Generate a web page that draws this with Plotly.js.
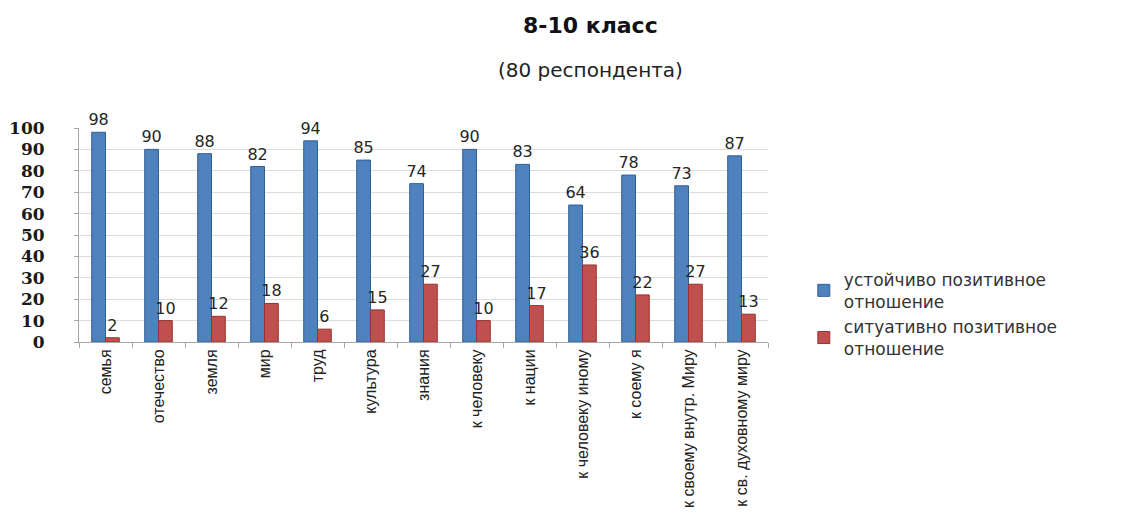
<!DOCTYPE html>
<html>
<head>
<meta charset="utf-8">
<script src="https://cdn.plot.ly/plotly-3.0.1.min.js"></script>
<style>html,body{margin:0;padding:0;background:#fff;}#chart{width:1139px;height:515px;}</style>
</head>
<body>
<div id="chart"></div>
<script>
const categories = ["семья","отечество","земля","мир","труд","культура","знания","к человеку","к нации","к человеку иному","к соему я","к своему внутр. Миру","к св. духовному миру"];
const stable = [98,90,88,82,94,85,74,90,83,64,78,73,87];
const situational = [2,10,12,18,6,15,27,10,17,36,22,27,13];
const seriesNames = ["устойчиво позитивное<br>отношение","ситуативно позитивное<br>отношение"];
const yTicks = [0,10,20,30,40,50,60,70,80,90,100];

const labelFont = {family:"DejaVu Sans", size:16, color:"#262626"};
const traces = [
  {type:"bar", x:categories, y:stable, name:seriesNames[0], text:stable.map(String), textposition:"outside", constraintext:"none", cliponaxis:false, textfont:labelFont,
   marker:{color:"#4F81BD", line:{color:"#2f5f98", width:1}}},
  {type:"bar", x:categories, y:situational, name:seriesNames[1], text:situational.map(String), textposition:"outside", constraintext:"none", cliponaxis:false, textfont:labelFont,
   marker:{color:"#C0504D", line:{color:"#983230", width:1}}}
];
const layout = {
  width:1139, height:515,
  margin:{l:79, r:371, t:128, b:173, pad:0},
  paper_bgcolor:"#fff", plot_bgcolor:"#fff",
  barmode:"group", bargap:0.48, bargroupgap:0,
  showlegend:true,
  legend:{x:1.052, xanchor:"left", y:0.375, yanchor:"top", font:{family:"DejaVu Sans", size:17, color:"#333"}, tracegroupgap:5, itemwidth:30},
  xaxis:{type:"category", tickangle:-90, automargin:false, tickfont:{family:"Liberation Sans", size:16, color:"#222"},
    showline:true, linecolor:"#a6a6a6", ticks:"outside", tickson:"boundaries", ticklen:5, tickcolor:"#a6a6a6", showgrid:false},
  yaxis:{range:[0,100], tickvals:yTicks, ticktext:yTicks.map(String), automargin:false,
    tickfont:{family:"DejaVu Serif", size:17, color:"#1a1a1a", weight:"bold"}, ticklabelstandoff:26,
    showgrid:true, gridcolor:"#dcdcdc", showline:true, linecolor:"#a6a6a6", ticks:"outside", ticklen:4, tickcolor:"#a6a6a6", zeroline:false},
  annotations:[
    {text:"<b>8-10 класс</b>", xref:"paper", yref:"paper", x:0.743, y:1.481, xanchor:"center", yanchor:"middle", showarrow:false, font:{family:"DejaVu Sans", size:22, color:"#111"}},
    {text:"(80 респондента)", xref:"paper", yref:"paper", x:0.743, y:1.271, xanchor:"center", yanchor:"middle", showarrow:false, font:{family:"DejaVu Sans", size:20, color:"#222"}}
  ]
};
Plotly.newPlot("chart", traces, layout, {displayModeBar:false, staticPlot:true});
</script>
</body>
</html>
